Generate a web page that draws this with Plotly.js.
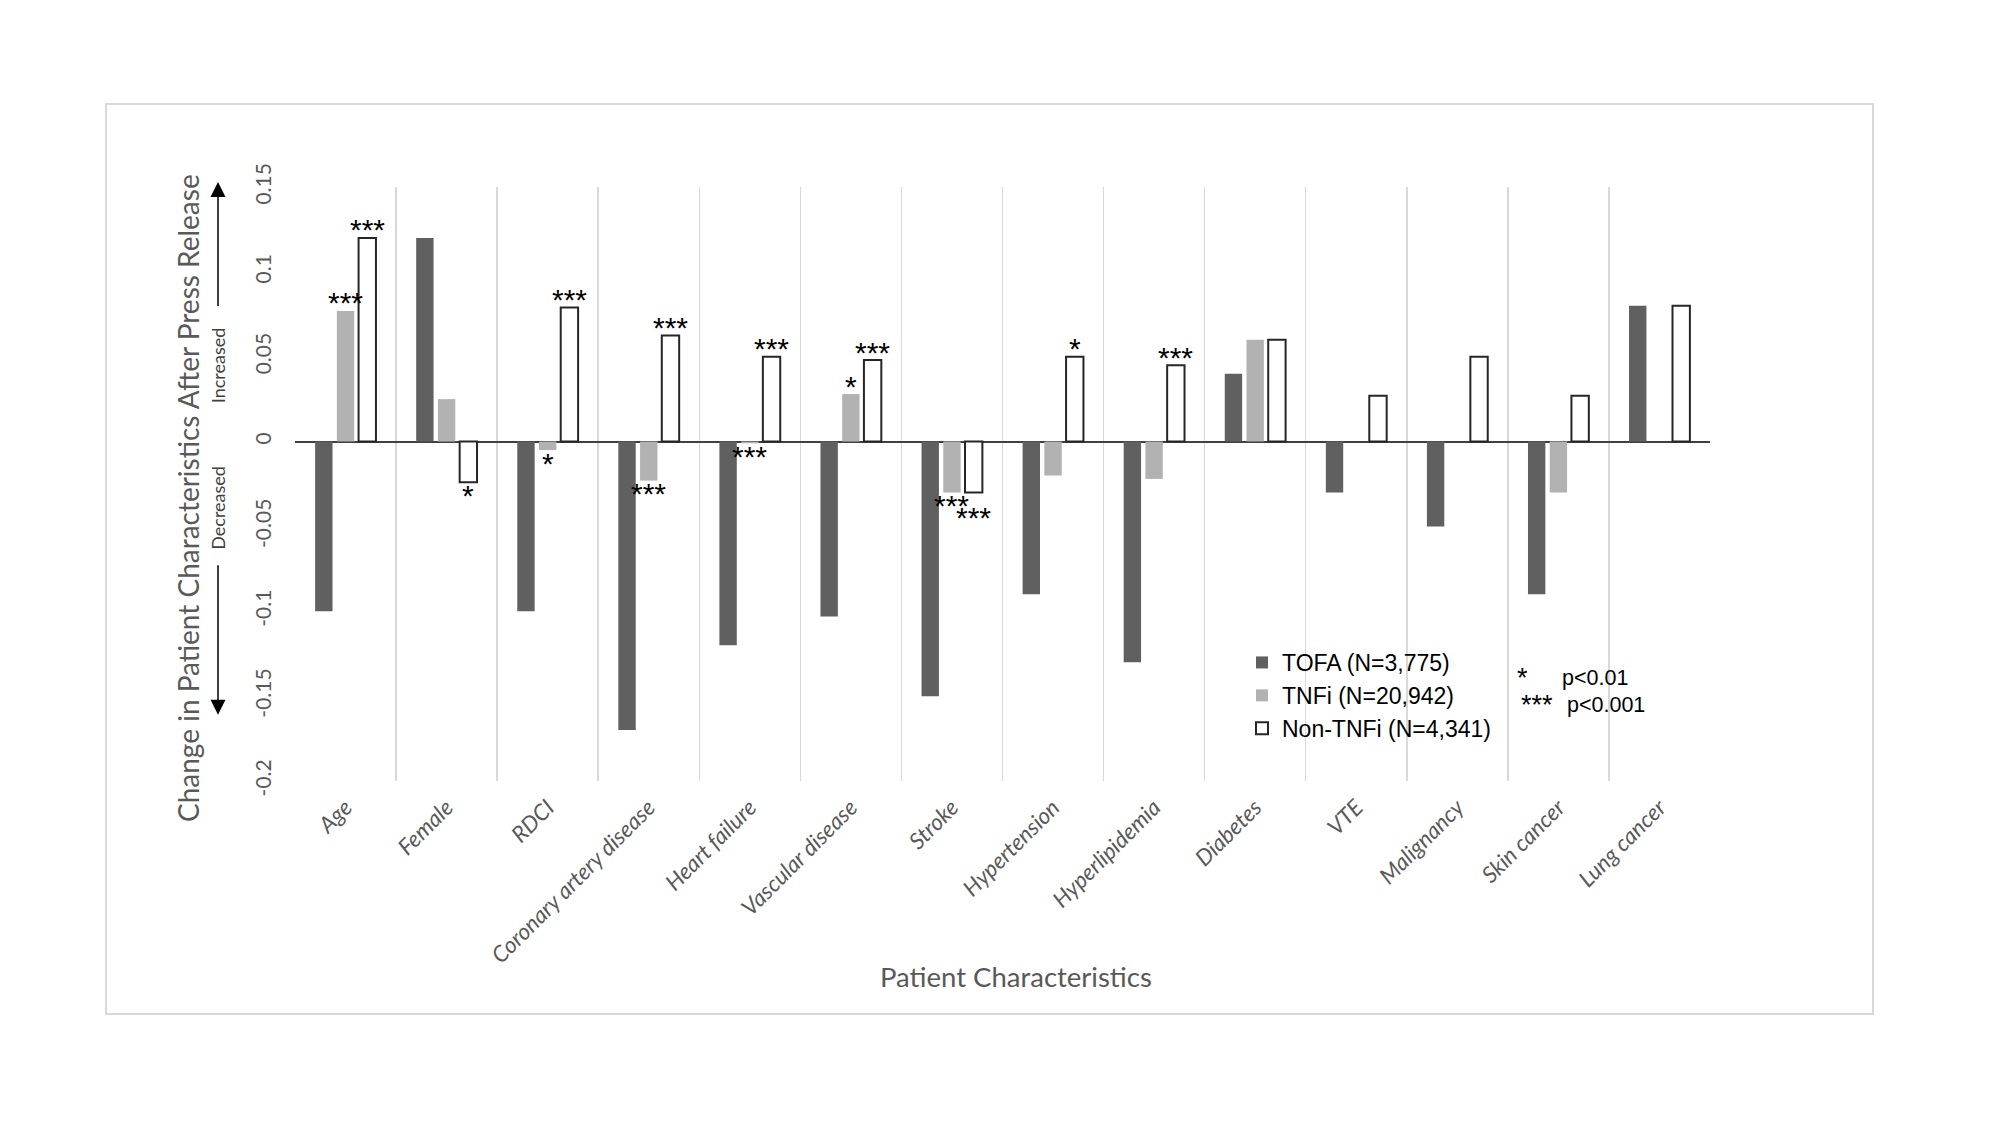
<!DOCTYPE html>
<html>
<head>
<meta charset="utf-8">
<script src="https://cdn.plot.ly/plotly-3.0.1.min.js"></script>
<style>
  html, body { margin: 0; padding: 0; background: #ffffff; }
  #wrap { position: relative; width: 2000px; height: 1125px; }
  #chart { position: absolute; left: 0; top: 0; width: 2000px; height: 1125px; }
  #frame { position: absolute; left: 105px; top: 103px; width: 1765px; height: 908px;
           border: 2px solid #d9d9d9; pointer-events: none; }
</style>
</head>
<body>
<div id="wrap">
  <div id="frame"></div>
  <div id="chart"></div>
</div>
<script>
// ---- data ----
const categories = ["Age", "Female", "RDCI", "Coronary artery disease", "Heart failure",
  "Vascular disease", "Stroke", "Hypertension", "Hyperlipidemia", "Diabetes", "VTE",
  "Malignancy", "Skin cancer", "Lung cancer"];
const tofaValues    = [-0.1, 0.12, -0.1, -0.17, -0.12, -0.103, -0.15, -0.09, -0.13, 0.04, -0.03, -0.05, -0.09, 0.08];
const tnfiValues    = [0.077, 0.025, -0.005, -0.023, -0.001, 0.028, -0.03, -0.02, -0.022, 0.06, 0, 0, -0.03, 0];
const nonTnfiValues = [0.12, -0.024, 0.079, 0.0625, 0.05, 0.048, -0.03, 0.05, 0.045, 0.06, 0.027, 0.05, 0.027, 0.08];
const tofaSig    = ["", "", "", "", "", "", "", "", "", "", "", "", "", ""];
const tnfiSig    = ["***", "", "*", "***", "***", "*", "***", "", "", "", "", "", "", ""];
const nonTnfiSig = ["***", "*", "***", "***", "***", "***", "***", "*", "***", "", "", "", "", ""];
const seriesNames = ["TOFA (N=3,775)", "TNFi (N=20,942)", "Non-TNFi (N=4,341)"];
const yTickVals = [-0.2, -0.15, -0.1, -0.05, 0, 0.05, 0.1, 0.15];
const yTickText = ["-0.2", "-0.15", "-0.1", "-0.05", "0", "0.05", "0.1", "0.15"];
const sigLegend = [["*", "p<0.01"], ["***", "p<0.001"]];

// ---- style / layout constants ----
const W = 2000, H = 1125;
const M = { l: 295, r: 290, t: 187, b: 344 };
const BARGAP = 0.355, BARGROUPGAP = 0.2;
const plotW = W - M.l - M.r, plotH = H - M.t - M.b;
const catW = plotW / categories.length;
const slotW = catW * (1 - BARGAP) / 3;

const arial = "Liberation Sans, Arial, sans-serif";
const calibriLike = "Lato, 'Open Sans', sans-serif";
const starFont = { family: arial, size: 30, color: "#000000" };
const annFont = { family: arial, size: 21.5, color: "#000000" };

function px2x(px) { return (px - M.l) / plotW; }
function py2y(py) { return (M.t + plotH - py) / plotH; }

const traces = [
  { type: "bar", name: seriesNames[0], x: categories, y: tofaValues,
    marker: { color: "#606060", line: { width: 0 } } },
  { type: "bar", name: seriesNames[1], x: categories, y: tnfiValues,
    marker: { color: "#b2b2b2", line: { width: 0 } } },
  { type: "bar", name: seriesNames[2], x: categories, y: nonTnfiValues,
    marker: { color: "#ffffff", line: { color: "#262626", width: 2 } } }
];

// significance stars attached to bar ends (data coordinates)
const annotations = [];
const series = [[tofaValues, tofaSig, -1], [tnfiValues, tnfiSig, 0], [nonTnfiValues, nonTnfiSig, 1]];
series.forEach(function (s, si) {
  const vals = s[0], sig = s[1], k = s[2];
  vals.forEach(function (v, i) {
    if (!sig[i]) return;
    let shift = v >= 0 ? 8 : -13;
    // stagger a label that would collide with its left neighbour's label on the same side
    if (si > 0) {
      const prev = series[si - 1];
      if (prev[1][i].length > 1 && sig[i].length > 1 && (prev[0][i] < 0) === (v < 0) &&
          Math.abs(prev[0][i] - v) < 0.005) {
        shift += v >= 0 ? 12 : -12;
      }
    }
    annotations.push({
      xref: "x", yref: "y", x: categories[i], y: v, text: sig[i], showarrow: false,
      xshift: k * slotW, xanchor: "center", yanchor: "middle",
      yshift: shift, font: starFont
    });
  });
});

// increased / decreased arrows beside the y axis
const arrowX = px2x(218);
const sideFont = { family: calibriLike, size: 18, color: "#404040" };
annotations.push(
  { xref: "paper", yref: "y", x: arrowX, y: 0.153, axref: "pixel", ayref: "y", ax: 0, ay: 0.079,
    showarrow: true, arrowhead: 2, arrowsize: 2, arrowwidth: 1.5, arrowcolor: "#000000", text: "", standoff: 0 },
  { xref: "paper", yref: "y", x: arrowX, y: -0.161, axref: "pixel", ayref: "y", ax: 0, ay: -0.072,
    showarrow: true, arrowhead: 2, arrowsize: 2, arrowwidth: 1.5, arrowcolor: "#000000", text: "", standoff: 0 },
  { xref: "paper", yref: "y", x: arrowX, y: 0.045, text: "Increased", textangle: -90, showarrow: false,
    xanchor: "center", yanchor: "middle", font: sideFont },
  { xref: "paper", yref: "y", x: arrowX, y: -0.039, text: "Decreased", textangle: -90, showarrow: false,
    xanchor: "center", yanchor: "middle", font: sideFont }
);

// p-value key
const keyStarFont = { family: arial, size: 27, color: "#000" };
annotations.push(
  { xref: "paper", yref: "paper", x: px2x(1522), y: py2y(678), text: sigLegend[0][0], showarrow: false,
    xanchor: "center", yanchor: "middle", font: keyStarFont },
  { xref: "paper", yref: "paper", x: px2x(1560), y: py2y(678), text: sigLegend[0][1], showarrow: false,
    xanchor: "left", yanchor: "middle", font: annFont },
  { xref: "paper", yref: "paper", x: px2x(1519), y: py2y(705), text: sigLegend[1][0], showarrow: false,
    xanchor: "left", yanchor: "middle", font: keyStarFont },
  { xref: "paper", yref: "paper", x: px2x(1565), y: py2y(705), text: sigLegend[1][1], showarrow: false,
    xanchor: "left", yanchor: "middle", font: annFont }
);

// axis titles (placed like the original, overlapping the slanted labels' band)
annotations.push(
  { xref: "paper", yref: "paper", x: px2x(188), y: py2y(498), text: "Change in Patient Characteristics After Press Release",
    textangle: -90, showarrow: false, xanchor: "center", yanchor: "middle",
    font: { family: calibriLike, size: 28, color: "#595959" } },
  { xref: "paper", yref: "paper", x: px2x(1016), y: py2y(976), text: "Patient Characteristics",
    showarrow: false, xanchor: "center", yanchor: "middle",
    font: { family: calibriLike, size: 27.5, color: "#595959" } }
);

const layout = {
  width: W, height: H,
  margin: { l: M.l, r: M.r, t: M.t, b: M.b, pad: 0 },
  paper_bgcolor: "rgba(0,0,0,0)",
  plot_bgcolor: "rgba(0,0,0,0)",
  barmode: "group",
  bargap: BARGAP,
  bargroupgap: BARGROUPGAP,
  showlegend: true,
  legend: {
    x: px2x(1242), y: py2y(641), xanchor: "left", yanchor: "top",
    bgcolor: "rgba(0,0,0,0)", borderwidth: 0,
    font: { family: arial, size: 23, color: "#000000" },
    tracegroupgap: 0
  },
  xaxis: {
    type: "category",
    tickson: "boundaries",
    showgrid: true, gridcolor: "#d9d9d9", gridwidth: 1.5,
    showline: false, zeroline: false, ticks: "",
    tickangle: -45,
    ticklabelstandoff: 8,
    tickfont: { family: calibriLike, size: 22.5, color: "#595959", style: "italic" },
    automargin: false
  },
  yaxis: {
    range: [-0.2, 0.15],
    tickvals: yTickVals, ticktext: yTickText,
    tickangle: -90,
    showgrid: false, showline: false,
    zeroline: true, zerolinecolor: "#404040", zerolinewidth: 2,
    ticks: "",
    ticklabelstandoff: 19,
    tickfont: { family: calibriLike, size: 21, color: "#595959" },
    automargin: false
  },
  annotations: annotations
};

Plotly.newPlot("chart", traces, layout, { displayModeBar: false, staticPlot: true });
</script>
</body>
</html>
